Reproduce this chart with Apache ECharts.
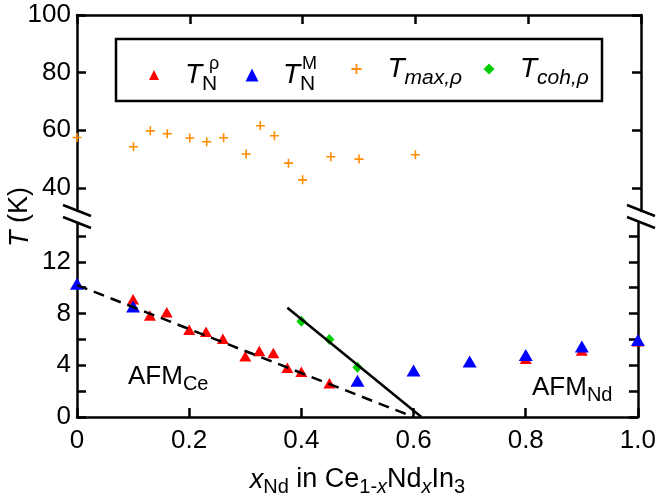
<!DOCTYPE html>
<html><head><meta charset="utf-8">
<script src="https://cdn.jsdelivr.net/npm/echarts@6/dist/echarts.min.js"></script>
<style>html,body{margin:0;padding:0;background:#fff}#c{width:659px;height:498px}</style>
</head><body><div id="c"></div>
<script>
// ---- data ----
const xTicks = [0, 0.2, 0.4, 0.6, 0.8, 1.0];
const upperTicks = [40, 60, 80, 100];
const lowerTicks = [0, 2, 4, 6, 8, 10, 12, 14];
const lowerLabels = [0, 4, 8, 12];

const xRho  = [0.10, 0.13, 0.16, 0.20, 0.23, 0.26, 0.30, 0.325, 0.35, 0.375, 0.40, 0.45, 0.80, 0.90, 1.00];
const TNrho = [9.1, 7.85, 8.1, 6.75, 6.6, 6.05, 4.7, 5.1, 4.95, 3.8, 3.5, 2.6, 4.5, 5.15, 5.85];

const xM  = [0, 0.10, 0.50, 0.60, 0.70, 0.80, 0.90, 1.00];
const TNM = [10.3, 8.55, 2.8, 3.6, 4.3, 4.8, 5.45, 5.95];

const xMax = [0, 0.10, 0.13, 0.16, 0.20, 0.23, 0.26, 0.30, 0.325, 0.35, 0.375, 0.40, 0.45, 0.50, 0.60];
const Tmax = [57.5, 54.3, 59.8, 58.8, 57.3, 56.0, 57.4, 51.8, 61.6, 58.1, 48.6, 42.8, 50.8, 50.0, 51.5];

const xCoh = [0.40, 0.45, 0.50];
const Tcoh = [7.4, 6.0, 3.85];

const ceLineX = [0, 0.60];
const ceLineT = [10.2, 0];
const ndLineX = [0.375, 0.614];
const ndLineT = [8.45, 0];

// ---- chart ----
const F = 'Liberation Sans, Arial, sans-serif';
const pairs = (xs, ys) => xs.map((x, i) => [x, ys[i]]);
const plusPath = 'path://M0,3.5H3.5V0H5V3.5H8.5V5H5V8.5H3.5V5H0Z';
const AX = {color: '#000', width: 2.5};

function yAx(grid, pos, min, max, ticks, labels) {
  return {
    type: 'value', gridIndex: grid, position: pos, min: min, max: max,
    axisLine: {show: true, onZero: false, lineStyle: AX},
    axisTick: {show: true, inside: true, length: 9, customValues: ticks, lineStyle: AX},
    axisLabel: labels ? {show: true, customValues: labels, margin: 6, color: '#000', fontSize: 26, fontFamily: F}
                      : {show: false},
    splitLine: {show: false}
  };
}

const legendRich = {
  t:  {fontSize: 28, fontStyle: 'italic', lineHeight: 40, verticalAlign: 'middle', fontFamily: F, color: '#000'},
  si: {fontSize: 21, fontStyle: 'italic', lineHeight: 20, verticalAlign: 'bottom', fontFamily: F, color: '#000'},
  sn1: {fontSize: 21, lineHeight: 20, verticalAlign: 'bottom', fontFamily: F, color: '#000', width: 7},
  sn2: {fontSize: 21, lineHeight: 20, verticalAlign: 'bottom', fontFamily: F, color: '#000', width: 2},
  p:  {fontSize: 18, lineHeight: 18, verticalAlign: 'top', fontFamily: F, color: '#000'},
  g1: {width: 21, fontSize: 10, lineHeight: 10},
  g2: {width: 19.5, fontSize: 10, lineHeight: 10},
  g3: {width: 21, fontSize: 10, lineHeight: 10},
  g4: {width: 20.5, fontSize: 10, lineHeight: 10}
};
const legendText = {
  'TNrho': '{g1| }{t|T}{sn1|N}{p|ρ}',
  'TNM':   '{g2| }{t|T}{sn2|N}{p|M}',
  'Tmax':  '{g3| }{t|T}{si|max,ρ}',
  'Tcoh':  '{g4| }{t|T}{si|coh,ρ}'
};
function lg(name, left, icon, h) {
  return {
    data: [{name: name, icon: icon}], left: left, top: 55, padding: 0,
    itemWidth: h, itemHeight: h, selectedMode: false,
    formatter: n => legendText[n],
    textStyle: {rich: legendRich, fontFamily: F, fontSize: 28, color: '#000'}
  };
}

const mainRich = {
  i:  {fontSize: 27, fontStyle: 'italic', lineHeight: 34, verticalAlign: 'middle', fontFamily: F, color: '#000'},
  n:  {fontSize: 27, lineHeight: 34, verticalAlign: 'middle', fontFamily: F, color: '#000'},
  s:  {fontSize: 20, lineHeight: 16, verticalAlign: 'bottom', fontFamily: F, color: '#000'},
  si: {fontSize: 20, fontStyle: 'italic', lineHeight: 16, verticalAlign: 'bottom', fontFamily: F, color: '#000'}
};
const annRich = {
  n: {fontSize: 26, lineHeight: 34, verticalAlign: 'middle', fontFamily: F, color: '#000'},
  s: {fontSize: 20, lineHeight: 16, verticalAlign: 'bottom', fontFamily: F, color: '#000'}
};

const chart = echarts.init(document.getElementById('c'), null, {renderer: 'canvas'});
chart.setOption({
  animation: false,
  backgroundColor: '#fff',
  grid: [
    {left: 77, right: 18, top: 15, height: 196},
    {left: 77, right: 18, top: 223, height: 195}
  ],
  xAxis: [
    {type: 'value', gridIndex: 0, position: 'top', min: 0, max: 1, interval: 0.2,
     axisLine: {show: true, onZero: false, lineStyle: AX},
     axisTick: {show: true, inside: true, length: 9, customValues: xTicks, lineStyle: AX},
     axisLabel: {show: false}, splitLine: {show: false}},
    {type: 'value', gridIndex: 1, position: 'bottom', min: 0, max: 1, interval: 0.2,
     axisLine: {show: true, onZero: false, lineStyle: AX},
     axisTick: {show: true, inside: true, length: 9, customValues: xTicks, lineStyle: AX},
     axisLabel: {show: true, customValues: xTicks, margin: 11, color: '#000', fontSize: 26, fontFamily: F,
                 formatter: v => (v === 0 ? '0' : v.toFixed(1))},
     splitLine: {show: false},
     name: '{i|x}{s|Nd}{n| in Ce}{s|1-}{si|x}{n|Nd}{si|x}{n|In}{s|3}',
     nameLocation: 'middle', nameGap: 46,
     nameTextStyle: {fontSize: 27, fontFamily: F, color: '#000', rich: mainRich}}
  ],
  yAxis: [
    yAx(0, 'left', 32, 100, upperTicks, upperTicks),
    yAx(0, 'right', 32, 100, upperTicks, null),
    yAx(1, 'left', 0, 15, lowerTicks, lowerLabels),
    yAx(1, 'right', 0, 15, lowerTicks, null)
  ],
  legend: [
    lg('TNrho', 149, 'triangle', 10),
    lg('TNM', 245.5, 'triangle', 13),
    lg('Tmax', 351.5, plusPath, 10),
    lg('Tcoh', 483.5, 'diamond', 11)
  ],
  graphic: [
    {type: 'rect', shape: {x: 116, y: 39, width: 486, height: 62}, style: {fill: 'none', stroke: '#000', lineWidth: 2.5}, z: 10},
    {type: 'line', shape: {x1: 63, y1: 205, x2: 91, y2: 216}, style: {stroke: '#000', lineWidth: 2.5}, z: 10},
    {type: 'line', shape: {x1: 63, y1: 217, x2: 91, y2: 228}, style: {stroke: '#000', lineWidth: 2.5}, z: 10},
    {type: 'line', shape: {x1: 627, y1: 205, x2: 655, y2: 216}, style: {stroke: '#000', lineWidth: 2.5}, z: 10},
    {type: 'line', shape: {x1: 627, y1: 217, x2: 655, y2: 228}, style: {stroke: '#000', lineWidth: 2.5}, z: 10},
    {type: 'text', x: 20, y: 217, rotation: Math.PI / 2,
     style: {text: '{i|T}{n| (K)}', rich: mainRich, align: 'center', verticalAlign: 'middle', fill: '#000', fontSize: 27, fontFamily: F}},
    {type: 'text', x: 128, y: 360,
     style: {text: '{n|AFM}{s|Ce}', rich: annRich, align: 'left', verticalAlign: 'top', fill: '#000', fontSize: 26, fontFamily: F}},
    {type: 'text', x: 532, y: 371,
     style: {text: '{n|AFM}{s|Nd}', rich: annRich, align: 'left', verticalAlign: 'top', fill: '#000', fontSize: 26, fontFamily: F}}
  ],
  series: [
    {name: 'Tmax', type: 'scatter', xAxisIndex: 0, yAxisIndex: 0, data: pairs(xMax, Tmax),
     symbol: plusPath, symbolSize: 9, itemStyle: {color: '#ff8c00', opacity: 1}},
    {name: 'TNrho', type: 'scatter', xAxisIndex: 1, yAxisIndex: 2, data: pairs(xRho, TNrho),
     symbol: 'triangle', symbolSize: [12, 10.5], itemStyle: {color: '#ff0000', opacity: 1}},
    {name: 'Tcoh', type: 'scatter', xAxisIndex: 1, yAxisIndex: 2, data: pairs(xCoh, Tcoh),
     symbol: 'diamond', symbolSize: [10, 11], itemStyle: {color: '#00cc00', opacity: 1}},
    {name: 'ceLine', type: 'line', xAxisIndex: 1, yAxisIndex: 2, data: pairs(ceLineX, ceLineT),
     symbol: 'none', silent: true, lineStyle: {color: '#000', width: 2.5, type: [11, 7]}},
    {name: 'ndLine', type: 'line', xAxisIndex: 1, yAxisIndex: 2, data: pairs(ndLineX, ndLineT),
     symbol: 'none', silent: true, lineStyle: {color: '#000', width: 2.5}},
    {name: 'TNM', type: 'scatter', xAxisIndex: 1, yAxisIndex: 2, data: pairs(xM, TNM),
     symbol: 'triangle', symbolSize: [14, 12], itemStyle: {color: '#0000ff', opacity: 1}}
  ]
});
</script></body></html>
